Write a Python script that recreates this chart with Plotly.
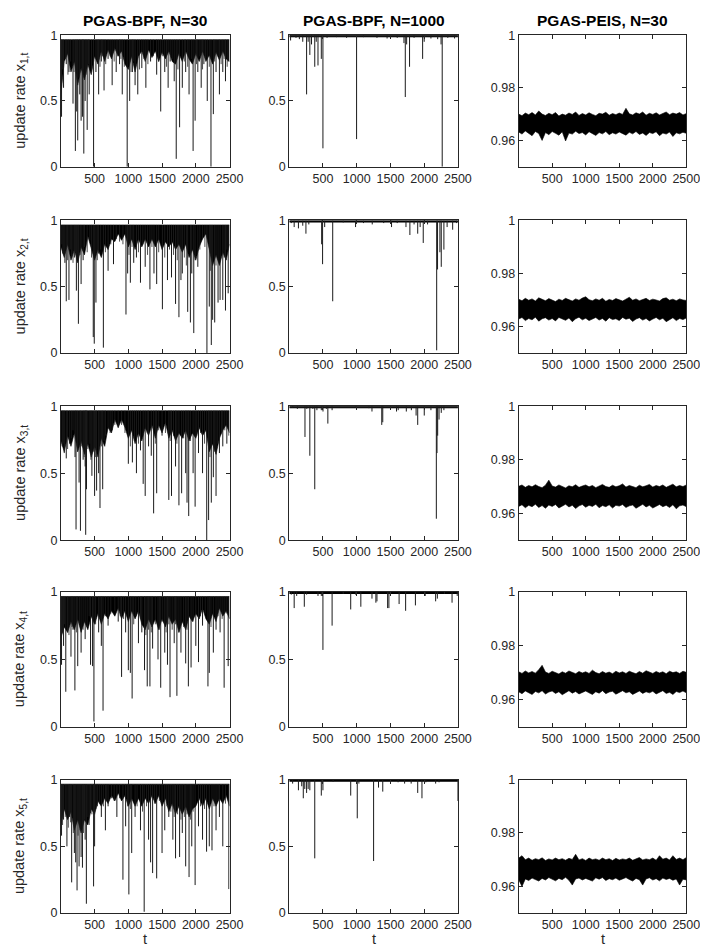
import plotly.graph_objects as go

# ---------------- data ----------------
T_END = 2500
band_t = [1] + list(range(50, 2501, 50))            # envelope sample positions (51)
band_t_coarse = [1] + list(range(100, 2501, 100))   # coarse envelope positions (26)

titles = ["PGAS-BPF, N=30", "PGAS-BPF, N=1000", "PGAS-PEIS, N=30"]
ylabels = ["update rate x<sub>%d,t</sub>" % i for i in range(1, 6)]
x_ticks = [500, 1000, 1500, 2000, 2500]
y_ticks_bpf = [0, 0.5, 1]
y_ticks_peis = [0.96, 0.98, 1]

# ---- column 1: PGAS-BPF, N=30  (band top, lower edge of the dense band, dips) ----
bpf30_top = 0.966
bpf30_lo_x1 = [0.55, 0.80, 0.86, 0.72, 0.80, 0.62, 0.75, 0.66, 0.78, 0.70,
               0.84, 0.78, 0.88, 0.80, 0.89, 0.82, 0.90, 0.84, 0.88, 0.78,
               0.74, 0.84, 0.72, 0.84, 0.88, 0.80, 0.89, 0.83, 0.88, 0.80,
               0.87, 0.82, 0.88, 0.80, 0.78, 0.86, 0.80, 0.88, 0.82, 0.78,
               0.86, 0.80, 0.88, 0.80, 0.85, 0.78, 0.87, 0.81, 0.88, 0.82, 0.80]
bpf30_lo_x2 = [0.80, 0.72, 0.82, 0.70, 0.78, 0.68, 0.80, 0.74, 0.88, 0.78,
               0.70, 0.78, 0.72, 0.82, 0.78, 0.86, 0.84, 0.90, 0.85, 0.90,
               0.80, 0.86, 0.78, 0.86, 0.80, 0.86, 0.80, 0.86, 0.80, 0.86,
               0.78, 0.84, 0.80, 0.84, 0.78, 0.82, 0.76, 0.82, 0.72, 0.78,
               0.70, 0.80, 0.86, 0.90, 0.78, 0.66, 0.74, 0.66, 0.76, 0.70, 0.82]
bpf30_lo_x3 = [0.74, 0.66, 0.78, 0.70, 0.80, 0.66, 0.74, 0.64, 0.72, 0.62,
               0.70, 0.62, 0.76, 0.70, 0.84, 0.80, 0.90, 0.84, 0.90, 0.84,
               0.76, 0.82, 0.72, 0.80, 0.74, 0.84, 0.78, 0.86, 0.76, 0.86,
               0.80, 0.88, 0.76, 0.82, 0.74, 0.80, 0.76, 0.82, 0.74, 0.80,
               0.76, 0.84, 0.78, 0.82, 0.66, 0.72, 0.64, 0.76, 0.82, 0.86, 0.80]
bpf30_lo_x4 = [0.66, 0.74, 0.70, 0.78, 0.72, 0.80, 0.70, 0.78, 0.72, 0.82,
               0.76, 0.84, 0.76, 0.84, 0.80, 0.86, 0.82, 0.88, 0.80, 0.86,
               0.78, 0.86, 0.80, 0.86, 0.76, 0.72, 0.80, 0.74, 0.80, 0.72,
               0.80, 0.74, 0.82, 0.76, 0.80, 0.70, 0.78, 0.72, 0.82, 0.78,
               0.84, 0.80, 0.88, 0.80, 0.76, 0.84, 0.78, 0.88, 0.82, 0.86, 0.80]
bpf30_lo_x5 = [0.66, 0.78, 0.70, 0.76, 0.62, 0.70, 0.60, 0.70, 0.66, 0.78,
               0.74, 0.84, 0.80, 0.86, 0.82, 0.88, 0.84, 0.90, 0.84, 0.88,
               0.80, 0.86, 0.80, 0.86, 0.80, 0.86, 0.82, 0.88, 0.82, 0.88,
               0.80, 0.86, 0.76, 0.82, 0.74, 0.80, 0.74, 0.80, 0.72, 0.78,
               0.80, 0.86, 0.80, 0.86, 0.78, 0.86, 0.80, 0.86, 0.82, 0.88, 0.80]

bpf30_dips_x1 = [(10, 0.38), (40, 0.60), (80, 0.78), (120, 0.72), (180, 0.48), (215, 0.12),
                 (235, 0.42), (250, 0.20), (280, 0.55), (300, 0.35), (320, 0.38), (340, 0.10),
                 (360, 0.50), (390, 0.28), (420, 0.55), (485, 0.00), (520, 0.72), (560, 0.55),
                 (600, 0.80), (640, 0.58), (700, 0.82), (760, 0.62), (820, 0.72), (870, 0.78),
                 (910, 0.55), (983, 0.00), (1020, 0.50), (1060, 0.72), (1100, 0.62), (1140, 0.55),
                 (1200, 0.75), (1260, 0.60), (1330, 0.80), (1420, 0.70), (1480, 0.42), (1540, 0.72),
                 (1590, 0.60), (1620, 0.80), (1680, 0.65), (1710, 0.06), (1760, 0.30), (1800, 0.60),
                 (1850, 0.72), (1900, 0.55), (1960, 0.12), (1990, 0.35), (2030, 0.72), (2080, 0.60),
                 (2120, 0.78), (2170, 0.50), (2225, 0.00), (2260, 0.40), (2300, 0.72), (2350, 0.55),
                 (2400, 0.72), (2440, 0.65), (2480, 0.80)]
bpf30_short_x1 = [(25, 0.74), (65, 0.82), (105, 0.70), (145, 0.80), (195, 0.72), (270, 0.68),
                  (330, 0.74), (375, 0.70), (410, 0.78), (455, 0.72), (540, 0.80), (580, 0.76),
                  (620, 0.84), (665, 0.78), (730, 0.84), (790, 0.80), (845, 0.84), (890, 0.82),
                  (940, 0.76), (1040, 0.72), (1080, 0.80), (1165, 0.74), (1230, 0.82), (1290, 0.78),
                  (1370, 0.84), (1450, 0.80), (1510, 0.84), (1565, 0.76), (1650, 0.82), (1735, 0.74),
                  (1830, 0.80), (1880, 0.76), (1935, 0.82), (2010, 0.78), (2060, 0.84), (2100, 0.74),
                  (2145, 0.82), (2200, 0.76), (2280, 0.80), (2330, 0.84), (2375, 0.78), (2420, 0.82),
                  (2465, 0.76)]
bpf30_dips_x2 = [(30, 0.75), (60, 0.68), (80, 0.39), (120, 0.40), (160, 0.72), (200, 0.72),
                 (230, 0.47), (250, 0.70), (260, 0.22), (300, 0.52), (330, 0.70), (430, 0.85),
                 (480, 0.12), (495, 0.07), (520, 0.38), (560, 0.75), (630, 0.04), (700, 0.62),
                 (780, 0.67), (965, 0.29), (990, 0.60), (1030, 0.53), (1080, 0.68), (1120, 0.72),
                 (1180, 0.53), (1250, 0.65), (1320, 0.48), (1380, 0.60), (1420, 0.52), (1505, 0.33),
                 (1580, 0.55), (1640, 0.57), (1700, 0.37), (1750, 0.27), (1780, 0.55), (1800, 0.60),
                 (1880, 0.31), (1920, 0.23), (1940, 0.60), (1970, 0.15), (2030, 0.65), (2165, 0.00),
                 (2200, 0.35), (2230, 0.06), (2250, 0.25), (2280, 0.23), (2330, 0.38), (2360, 0.40),
                 (2400, 0.40), (2440, 0.32), (2480, 0.45)]
bpf30_short_x2 = [(15, 0.82), (45, 0.74), (100, 0.70), (140, 0.78), (180, 0.68), (215, 0.76),
                  (285, 0.74), (350, 0.80), (390, 0.76), (455, 0.72), (540, 0.70), (590, 0.78),
                  (660, 0.76), (740, 0.82), (820, 0.86), (870, 0.84), (920, 0.82), (1010, 0.74),
                  (1055, 0.80), (1150, 0.76), (1215, 0.82), (1285, 0.74), (1350, 0.80), (1450, 0.76),
                  (1540, 0.72), (1610, 0.78), (1670, 0.74), (1725, 0.70), (1830, 0.72), (1860, 0.66),
                  (1990, 0.70), (2060, 0.78), (2100, 0.86), (2135, 0.80), (2215, 0.62), (2300, 0.66),
                  (2420, 0.72), (2460, 0.78)]
bpf30_dips_x3 = [(20, 0.70), (50, 0.65), (80, 0.61), (130, 0.72), (180, 0.82), (210, 0.62),
                 (225, 0.08), (270, 0.43), (290, 0.07), (330, 0.60), (360, 0.55), (368, 0.04),
                 (380, 0.38), (430, 0.72), (460, 0.48), (500, 0.33), (530, 0.37), (560, 0.50),
                 (580, 0.24), (620, 0.38), (660, 0.78), (760, 0.82), (1000, 0.57), (1060, 0.58),
                 (1120, 0.50), (1180, 0.67), (1220, 0.42), (1250, 0.33), (1300, 0.70), (1340, 0.63),
                 (1375, 0.20), (1420, 0.35), (1500, 0.78), (1600, 0.30), (1640, 0.33), (1700, 0.55),
                 (1750, 0.26), (1790, 0.35), (1850, 0.50), (1870, 0.28), (1895, 0.18), (1960, 0.50),
                 (1990, 0.25), (2040, 0.65), (2100, 0.50), (2162, 0.00), (2190, 0.15), (2230, 0.28),
                 (2260, 0.47), (2300, 0.33), (2350, 0.65), (2400, 0.70), (2460, 0.72)]
bpf30_short_x3 = [(35, 0.72), (100, 0.68), (155, 0.76), (245, 0.66), (310, 0.70), (345, 0.62),
                  (400, 0.68), (445, 0.60), (480, 0.66), (515, 0.62), (600, 0.70), (640, 0.74),
                  (700, 0.84), (730, 0.80), (800, 0.86), (850, 0.84), (900, 0.86), (950, 0.80),
                  (1030, 0.70), (1090, 0.74), (1150, 0.72), (1280, 0.80), (1400, 0.72), (1450, 0.82),
                  (1550, 0.80), (1620, 0.74), (1670, 0.78), (1720, 0.72), (1820, 0.76), (1920, 0.74),
                  (2015, 0.78), (2070, 0.80), (2130, 0.72), (2210, 0.62), (2280, 0.66), (2325, 0.72),
                  (2380, 0.80), (2430, 0.82), (2490, 0.78)]
bpf30_dips_x4 = [(10, 0.46), (40, 0.60), (73, 0.26), (100, 0.70), (150, 0.52), (180, 0.72),
                 (208, 0.27), (250, 0.45), (300, 0.55), (360, 0.65), (420, 0.82), (440, 0.46),
                 (470, 0.45), (490, 0.04), (560, 0.70), (600, 0.60), (625, 0.12), (700, 0.75),
                 (850, 0.78), (900, 0.37), (960, 0.70), (1000, 0.42), (1030, 0.40), (1056, 0.21),
                 (1150, 0.62), (1200, 0.70), (1240, 0.42), (1280, 0.30), (1320, 0.30), (1360, 0.58),
                 (1440, 0.50), (1480, 0.29), (1540, 0.55), (1580, 0.46), (1618, 0.22), (1680, 0.62),
                 (1720, 0.23), (1780, 0.55), (1850, 0.47), (1890, 0.30), (1930, 0.44), (2000, 0.60),
                 (2040, 0.48), (2100, 0.75), (2180, 0.30), (2200, 0.40), (2260, 0.55), (2300, 0.72),
                 (2360, 0.70), (2420, 0.29), (2480, 0.45)]
bpf30_short_x4 = [(25, 0.70), (55, 0.76), (120, 0.68), (165, 0.74), (230, 0.70), (275, 0.76),
                  (330, 0.72), (390, 0.74), (515, 0.76), (580, 0.80), (660, 0.82), (740, 0.84),
                  (800, 0.86), (880, 0.82), (930, 0.80), (1080, 0.76), (1110, 0.82), (1180, 0.80),
                  (1260, 0.68), (1300, 0.72), (1340, 0.70), (1400, 0.76), (1460, 0.72), (1510, 0.78),
                  (1560, 0.70), (1600, 0.76), (1650, 0.72), (1700, 0.76), (1750, 0.70), (1820, 0.74),
                  (1870, 0.72), (1960, 0.78), (2070, 0.82), (2140, 0.84), (2225, 0.74), (2330, 0.82),
                  (2390, 0.80), (2450, 0.84)]
bpf30_dips_x5 = [(10, 0.58), (40, 0.70), (90, 0.50), (130, 0.72), (160, 0.23), (200, 0.45),
                 (220, 0.38), (240, 0.17), (270, 0.35), (300, 0.42), (320, 0.34), (350, 0.70),
                 (360, 0.55), (378, 0.07), (440, 0.75), (485, 0.20), (500, 0.50), (540, 0.80),
                 (600, 0.72), (660, 0.62), (700, 0.80), (830, 0.72), (920, 0.25), (960, 0.65),
                 (1008, 0.14), (1050, 0.45), (1100, 0.72), (1180, 0.62), (1235, 0.01), (1300, 0.55),
                 (1330, 0.38), (1360, 0.30), (1420, 0.26), (1500, 0.45), (1540, 0.62), (1600, 0.72),
                 (1660, 0.55), (1700, 0.41), (1760, 0.42), (1800, 0.60), (1850, 0.35), (1900, 0.27),
                 (1940, 0.50), (1990, 0.21), (2040, 0.65), (2100, 0.55), (2160, 0.46), (2200, 0.50),
                 (2240, 0.47), (2300, 0.62), (2350, 0.72), (2400, 0.50), (2490, 0.18)]
bpf30_short_x5 = [(25, 0.66), (65, 0.72), (110, 0.64), (145, 0.68), (185, 0.60), (255, 0.58),
                  (285, 0.62), (335, 0.60), (400, 0.72), (420, 0.66), (460, 0.74), (520, 0.78),
                  (570, 0.82), (630, 0.80), (680, 0.84), (750, 0.86), (790, 0.84), (870, 0.86),
                  (990, 0.80), (1030, 0.78), (1130, 0.80), (1210, 0.76), (1270, 0.80), (1390, 0.82),
                  (1460, 0.84), (1570, 0.80), (1630, 0.76), (1680, 0.72), (1730, 0.74), (1780, 0.70),
                  (1830, 0.72), (1870, 0.74), (1920, 0.70), (1960, 0.76), (2070, 0.80), (2130, 0.78),
                  (2270, 0.80), (2330, 0.84), (2440, 0.82)]

# ---- column 2: PGAS-BPF, N=1000 ----
bpf1000_top = 0.999
bpf1000_lo = 0.988
bpf1000_dips_x1 = [(20, 0.96), (100, 0.98), (150, 0.97), (200, 0.95), (257, 0.55), (280, 0.95),
                   (305, 0.85), (330, 0.93), (378, 0.76), (400, 0.95), (426, 0.77), (475, 0.82),
                   (499, 0.14), (560, 0.98), (700, 0.985), (850, 0.98), (998, 0.21), (1100, 0.985),
                   (1300, 0.98), (1450, 0.975), (1600, 0.98), (1700, 0.94), (1720, 0.53), (1740, 0.93),
                   (1783, 0.76), (1850, 0.98), (1977, 0.82), (2000, 0.95), (2100, 0.975), (2200, 0.97),
                   (2250, 0.93), (2267, 0.00), (2350, 0.98), (2450, 0.975)]
bpf1000_dips_x2 = [(30, 0.98), (73, 0.95), (136, 0.94), (200, 0.96), (247, 0.90), (290, 0.97),
                   (480, 0.82), (494, 0.67), (525, 0.95), (644, 0.39), (800, 0.985), (983, 0.95),
                   (1100, 0.98), (1230, 0.97), (1400, 0.98), (1516, 0.95), (1600, 0.98), (1730, 0.95),
                   (1788, 0.89), (1850, 0.97), (1904, 0.90), (1940, 0.95), (1986, 0.83), (2050, 0.97),
                   (2185, 0.02), (2198, 0.63), (2233, 0.76), (2253, 0.65), (2292, 0.78), (2340, 0.95),
                   (2422, 0.93), (2480, 0.98)]
bpf1000_dips_x3 = [(50, 0.99), (120, 0.98), (233, 0.77), (260, 0.98), (305, 0.63), (350, 0.98),
                   (378, 0.38), (410, 0.97), (475, 0.97), (500, 0.96), (550, 0.98), (572, 0.87),
                   (635, 0.97), (980, 0.99), (1180, 0.985), (1226, 0.96), (1371, 0.86), (1386, 0.88),
                   (1590, 0.96), (1615, 0.97), (1735, 0.96), (1810, 0.97), (1880, 0.93), (1904, 0.86),
                   (2001, 0.93), (2100, 0.97), (2180, 0.16), (2190, 0.65), (2200, 0.78), (2220, 0.90),
                   (2253, 0.95), (2292, 0.97)]
bpf1000_dips_x4 = [(30, 0.98), (73, 0.88), (110, 0.97), (223, 0.89), (257, 0.98), (426, 0.97),
                   (475, 0.97), (499, 0.57), (635, 0.75), (800, 0.985), (911, 0.87), (983, 0.98),
                   (1061, 0.89), (1226, 0.95), (1284, 0.92), (1300, 0.93), (1458, 0.88), (1477, 0.88),
                   (1628, 0.91), (1725, 0.86), (1870, 0.90), (2015, 0.97), (2170, 0.93), (2195, 0.95),
                   (2300, 0.985), (2413, 0.92), (2490, 0.97)]
bpf1000_dips_x5 = [(50, 0.97), (136, 0.92), (185, 0.95), (208, 0.86), (230, 0.93), (257, 0.90),
                   (280, 0.93), (305, 0.92), (378, 0.41), (475, 0.88), (499, 0.92), (650, 0.985),
                   (911, 0.88), (1008, 0.71), (1032, 0.97), (1250, 0.39), (1323, 0.94), (1386, 0.91),
                   (1613, 0.98), (1710, 0.97), (1807, 0.97), (1904, 0.90), (1967, 0.86), (2025, 0.98),
                   (2170, 0.97), (2220, 0.98), (2500, 0.84)]

# ---- column 3: PGAS-PEIS, N=30 (upper and lower edges of the noisy band) ----
peis_hi_x1 = [0.9700, 0.9694, 0.9704, 0.9698, 0.9706, 0.9697, 0.9712, 0.9700, 0.9695, 0.9703,
              0.9698, 0.9706, 0.9693, 0.9700, 0.9696, 0.9704, 0.9699, 0.9708, 0.9695, 0.9702,
              0.9697, 0.9705, 0.9699, 0.9694, 0.9703, 0.9700, 0.9707, 0.9696, 0.9702, 0.9698,
              0.9704, 0.9699, 0.9722, 0.9701, 0.9697, 0.9705, 0.9700, 0.9708, 0.9696, 0.9703,
              0.9699, 0.9705, 0.9697, 0.9702, 0.9708, 0.9698, 0.9704, 0.9700, 0.9706, 0.9697, 0.9702]
peis_lo_x1 = [0.9632, 0.9624, 0.9636, 0.9628, 0.9618, 0.9634, 0.9626, 0.9600, 0.9630, 0.9622,
              0.9634, 0.9627, 0.9620, 0.9633, 0.9598, 0.9628, 0.9624, 0.9635, 0.9626, 0.9630,
              0.9621, 0.9633, 0.9627, 0.9619, 0.9630, 0.9625, 0.9634, 0.9622, 0.9629, 0.9624,
              0.9632, 0.9626, 0.9620, 0.9631, 0.9625, 0.9634, 0.9623, 0.9628, 0.9619, 0.9630,
              0.9626, 0.9633, 0.9618, 0.9628, 0.9624, 0.9632, 0.9615, 0.9629, 0.9625, 0.9631, 0.9627]
peis_hi_x2 = [0.9703, 0.9697, 0.9706, 0.9699, 0.9704, 0.9696, 0.9708, 0.9701, 0.9697, 0.9705,
              0.9700, 0.9694, 0.9703, 0.9698, 0.9706, 0.9700, 0.9696, 0.9704, 0.9699, 0.9707,
              0.9712, 0.9701, 0.9697, 0.9704, 0.9699, 0.9706, 0.9695, 0.9702, 0.9698, 0.9705,
              0.9700, 0.9696, 0.9703, 0.9710, 0.9699, 0.9704, 0.9697, 0.9702, 0.9706, 0.9698,
              0.9703, 0.9700, 0.9696, 0.9705, 0.9708, 0.9699, 0.9703, 0.9697, 0.9704, 0.9700, 0.9698]
peis_lo_x2 = [0.9628, 0.9634, 0.9622, 0.9630, 0.9625, 0.9635, 0.9620, 0.9629, 0.9633, 0.9624,
              0.9630, 0.9621, 0.9634, 0.9627, 0.9623, 0.9632, 0.9618, 0.9629, 0.9635, 0.9625,
              0.9631, 0.9622, 0.9628, 0.9634, 0.9624, 0.9630, 0.9620, 0.9633, 0.9626, 0.9629,
              0.9622, 0.9634, 0.9627, 0.9631, 0.9619, 0.9628, 0.9633, 0.9624, 0.9630, 0.9621,
              0.9628, 0.9634, 0.9625, 0.9631, 0.9618, 0.9627, 0.9633, 0.9622, 0.9630, 0.9626, 0.9632]
peis_hi_x3 = [0.9701, 0.9706, 0.9697, 0.9704, 0.9699, 0.9707, 0.9700, 0.9696, 0.9705, 0.9724,
              0.9702, 0.9698, 0.9706, 0.9700, 0.9695, 0.9703, 0.9699, 0.9707, 0.9697, 0.9702,
              0.9706, 0.9699, 0.9704, 0.9696, 0.9702, 0.9708, 0.9700, 0.9697, 0.9705, 0.9699,
              0.9703, 0.9710, 0.9698, 0.9704, 0.9700, 0.9696, 0.9705, 0.9699, 0.9703, 0.9708,
              0.9698, 0.9704, 0.9700, 0.9706, 0.9697, 0.9702, 0.9709, 0.9699, 0.9704, 0.9700, 0.9706]
peis_lo_x3 = [0.9626, 0.9632, 0.9621, 0.9630, 0.9625, 0.9634, 0.9622, 0.9629, 0.9619, 0.9631,
              0.9626, 0.9633, 0.9620, 0.9628, 0.9634, 0.9624, 0.9630, 0.9618, 0.9628, 0.9633,
              0.9623, 0.9630, 0.9626, 0.9634, 0.9621, 0.9629, 0.9625, 0.9632, 0.9620, 0.9630,
              0.9627, 0.9633, 0.9622, 0.9628, 0.9631, 0.9619, 0.9627, 0.9634, 0.9624, 0.9630,
              0.9620, 0.9628, 0.9633, 0.9625, 0.9630, 0.9622, 0.9632, 0.9617, 0.9628, 0.9631, 0.9625]
peis_hi_x4 = [0.9704, 0.9698, 0.9707, 0.9700, 0.9705, 0.9699, 0.9712, 0.9728, 0.9703, 0.9698,
              0.9706, 0.9700, 0.9696, 0.9704, 0.9699, 0.9707, 0.9701, 0.9697, 0.9705, 0.9700,
              0.9704, 0.9698, 0.9710, 0.9701, 0.9697, 0.9705, 0.9699, 0.9703, 0.9697, 0.9706,
              0.9700, 0.9704, 0.9698, 0.9706, 0.9701, 0.9697, 0.9705, 0.9699, 0.9708, 0.9702,
              0.9698, 0.9705, 0.9700, 0.9704, 0.9697, 0.9706, 0.9701, 0.9704, 0.9698, 0.9706, 0.9702]
peis_lo_x4 = [0.9630, 0.9623, 0.9633, 0.9627, 0.9620, 0.9631, 0.9626, 0.9634, 0.9622, 0.9629,
              0.9633, 0.9624, 0.9630, 0.9619, 0.9628, 0.9634, 0.9625, 0.9631, 0.9622, 0.9628,
              0.9633, 0.9626, 0.9620, 0.9630, 0.9625, 0.9634, 0.9623, 0.9629, 0.9632, 0.9621,
              0.9628, 0.9634, 0.9626, 0.9630, 0.9620, 0.9627, 0.9633, 0.9624, 0.9630, 0.9626,
              0.9632, 0.9622, 0.9629, 0.9634, 0.9624, 0.9628, 0.9620, 0.9631, 0.9627, 0.9633, 0.9626]
peis_hi_x5 = [0.9706, 0.9715, 0.9700, 0.9706, 0.9698, 0.9704, 0.9700, 0.9707, 0.9697, 0.9703,
              0.9699, 0.9706, 0.9700, 0.9704, 0.9698, 0.9705, 0.9701, 0.9720, 0.9699, 0.9704,
              0.9697, 0.9706, 0.9700, 0.9703, 0.9698, 0.9706, 0.9700, 0.9704, 0.9697, 0.9705,
              0.9699, 0.9703, 0.9700, 0.9706, 0.9698, 0.9704, 0.9708, 0.9699, 0.9703, 0.9700,
              0.9706, 0.9698, 0.9715, 0.9702, 0.9706, 0.9699, 0.9715, 0.9701, 0.9706, 0.9700, 0.9708]
peis_lo_x5 = [0.9625, 0.9600, 0.9628, 0.9622, 0.9631, 0.9626, 0.9620, 0.9630, 0.9624, 0.9633,
              0.9627, 0.9621, 0.9630, 0.9625, 0.9634, 0.9623, 0.9605, 0.9628, 0.9631, 0.9624,
              0.9630, 0.9626, 0.9620, 0.9632, 0.9627, 0.9633, 0.9622, 0.9629, 0.9625, 0.9631,
              0.9623, 0.9628, 0.9633, 0.9626, 0.9620, 0.9630, 0.9625, 0.9605, 0.9628, 0.9632,
              0.9624, 0.9629, 0.9621, 0.9631, 0.9626, 0.9630, 0.9623, 0.9628, 0.9605, 0.9627, 0.9624]

# ---------------- layout geometry (pixels) ----------------
W, H = 708, 952
COL_X = [(54, 226), (287, 459), (521, 692)]
ROW_Y = [(20.5, 154), (208.5, 343), (397, 533), (585.5, 722.5), (776, 911.5)]
AXC = "#262626"
FONT = "Liberation Sans, Arial, Helvetica, sans-serif"
TICK_SIZE = 12.5
LABEL_SIZE = 14.5
TITLE_SIZE = 15.5

bpf30_lo = [bpf30_lo_x1, bpf30_lo_x2, bpf30_lo_x3, bpf30_lo_x4, bpf30_lo_x5]
bpf30_dips = [bpf30_dips_x1, bpf30_dips_x2, bpf30_dips_x3, bpf30_dips_x4, bpf30_dips_x5]
bpf30_short = [bpf30_short_x1, bpf30_short_x2, bpf30_short_x3, bpf30_short_x4, bpf30_short_x5]
bpf1000_dips = [bpf1000_dips_x1, bpf1000_dips_x2, bpf1000_dips_x3, bpf1000_dips_x4, bpf1000_dips_x5]
peis_hi = [peis_hi_x1, peis_hi_x2, peis_hi_x3, peis_hi_x4, peis_hi_x5]
peis_lo = [peis_lo_x1, peis_lo_x2, peis_lo_x3, peis_lo_x4, peis_lo_x5]

fig = go.Figure()


def seg_xy(pairs, base):
    xs, ys = [], []
    for t, v in pairs:
        xs += [t, t, None]
        ys += [base, v, None]
    return xs, ys


def add_band(xref, yref, tvals, lo_vals, hi_vals, edge=0.6):
    fig.add_trace(go.Scatter(x=tvals, y=lo_vals, mode="lines", line=dict(width=edge, color="black"),
                             xaxis=xref, yaxis=yref, showlegend=False, hoverinfo="skip"))
    fig.add_trace(go.Scatter(x=tvals, y=hi_vals, mode="lines", fill="tonexty", fillcolor="black",
                             line=dict(width=edge, color="black"),
                             xaxis=xref, yaxis=yref, showlegend=False, hoverinfo="skip"))


def add_segs(xref, yref, pairs, base, color="#1a1a1a", width=1):
    xs, ys = seg_xy(pairs, base)
    fig.add_trace(go.Scatter(x=xs, y=ys, mode="lines", line=dict(width=width, color=color),
                             xaxis=xref, yaxis=yref, showlegend=False, hoverinfo="skip"))


layout = {}
for r in range(5):
    for c in range(3):
        k = r * 3 + c + 1
        xs = "x" if k == 1 else "x%d" % k
        ys = "y" if k == 1 else "y%d" % k
        xa = "xaxis" if k == 1 else "xaxis%d" % k
        ya = "yaxis" if k == 1 else "yaxis%d" % k
        x0, x1 = COL_X[c]
        top, bot = ROW_Y[r]
        if c < 2:
            yr, yt = [0, 1], y_ticks_bpf
            ytxt = ["0", "0.5", "1"]
        else:
            yr, yt = [0.95, 1], y_ticks_peis
            ytxt = ["0.96", "0.98", "1"]
        common = dict(showline=True, mirror="ticks", linecolor=AXC, linewidth=1, ticks="inside",
                      ticklen=4, tickcolor=AXC, tickwidth=1, showgrid=False, zeroline=False,
                      tickfont=dict(family=FONT, size=TICK_SIZE, color=AXC), fixedrange=True)
        layout[xa] = dict(domain=[x0 / W, x1 / W], range=[1, T_END], anchor=ys,
                          tickvals=x_ticks, ticktext=[str(v) for v in x_ticks], **common)
        layout[ya] = dict(domain=[1 - bot / H, 1 - top / H], range=yr, anchor=xs,
                          tickvals=yt, ticktext=ytxt, **common)

        if c == 0:
            add_band(xs, ys, band_t, bpf30_lo[r], [bpf30_top] * len(band_t))
            add_segs(xs, ys, bpf30_short[r], bpf30_top, color="#202020", width=0.8)
            add_segs(xs, ys, bpf30_dips[r], bpf30_top)
        elif c == 1:
            add_band(xs, ys, band_t_coarse, [bpf1000_lo] * len(band_t_coarse),
                     [bpf1000_top] * len(band_t_coarse), edge=1)
            add_segs(xs, ys, bpf1000_dips[r], bpf1000_top)
        else:
            add_band(xs, ys, band_t, peis_lo[r], peis_hi[r])

annotations = []
for c in range(3):
    x0, x1 = COL_X[c]
    annotations.append(dict(text="<b>%s</b>" % titles[c], x=(x0 + x1) / 2 / W, y=1 - 6 / H,
                            xref="paper", yref="paper", xanchor="center", yanchor="middle",
                            showarrow=False, font=dict(family=FONT, size=TITLE_SIZE, color="black")))
    annotations.append(dict(text="t", x=(x0 + x1) / 2 / W, y=1 - 938 / H,
                            xref="paper", yref="paper", xanchor="center", yanchor="middle",
                            showarrow=False, font=dict(family=FONT, size=LABEL_SIZE, color=AXC)))
for r in range(5):
    top, bot = ROW_Y[r]
    annotations.append(dict(text=ylabels[r], x=13 / W, y=1 - (top + bot) / 2 / H,
                            xref="paper", yref="paper", xanchor="center", yanchor="middle",
                            textangle=-90, showarrow=False,
                            font=dict(family=FONT, size=LABEL_SIZE, color=AXC)))

fig.update_layout(width=W, height=H, margin=dict(l=0, r=0, t=0, b=0),
                  paper_bgcolor="white", plot_bgcolor="white", showlegend=False,
                  annotations=annotations, **layout)

fig.write_html("out.html", config={"displayModeBar": False})
